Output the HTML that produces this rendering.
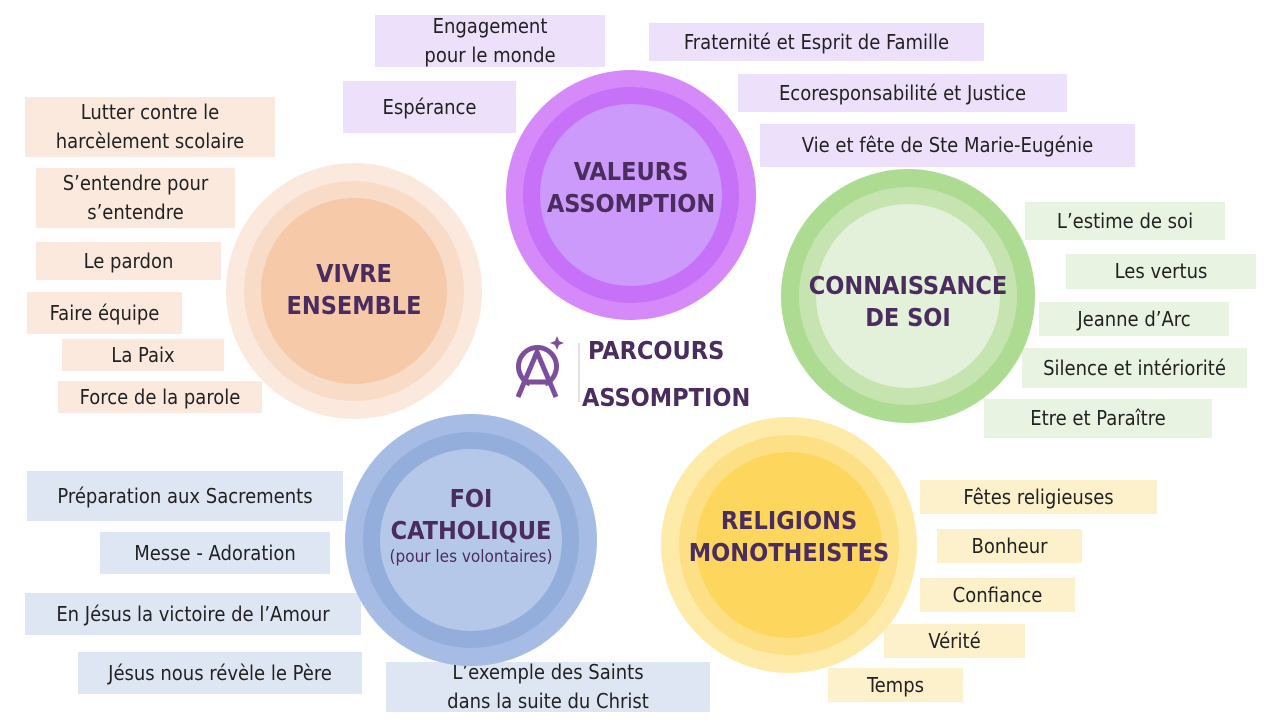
<!DOCTYPE html>
<html><head><meta charset="utf-8"><style>
body{margin:0;width:1280px;height:720px;background:#fff;position:relative;overflow:hidden;font-family:"DejaVu Sans Condensed","Liberation Sans",sans-serif;}
.b{position:absolute;display:flex;align-items:center;justify-content:center;text-align:center;font-size:20px;color:#222;line-height:29px;}
.p{background:#ede0fb}.o{background:#fce9de}.g{background:#e9f3e2}.u{background:#dfe6f3}.y{background:#fdf1cc}
.t{position:absolute;display:flex;align-items:center;justify-content:center;text-align:center;font-weight:bold;color:#4a2d5e;font-size:25px;line-height:32px;}
</style></head><body>
<div class="b p" style="left:375px;top:15px;width:230px;height:52px">Engagement<br>pour le monde</div>
<div class="b p" style="left:649px;top:23px;width:335px;height:38px">Fraternité et Esprit de Famille</div>
<div class="b p" style="left:343px;top:81px;width:173px;height:52px">Espérance</div>
<div class="b p" style="left:738px;top:74px;width:329px;height:38px">Ecoresponsabilité et Justice</div>
<div class="b p" style="left:760px;top:124px;width:375px;height:43px">Vie et fête de Ste Marie-Eugénie</div>

<div class="b o" style="left:25px;top:97px;width:250px;height:60px">Lutter contre le<br>harcèlement scolaire</div>
<div class="b o" style="left:36px;top:168px;width:199px;height:60px">S’entendre pour<br>s’entendre</div>
<div class="b o" style="left:36px;top:242px;width:185px;height:38px">Le pardon</div>
<div class="b o" style="left:27px;top:292px;width:155px;height:42px">Faire équipe</div>
<div class="b o" style="left:62px;top:339px;width:162px;height:32px">La Paix</div>
<div class="b o" style="left:58px;top:381px;width:204px;height:32px">Force de la parole</div>

<div class="b g" style="left:1025px;top:202px;width:200px;height:38px">L’estime de soi</div>
<div class="b g" style="left:1066px;top:254px;width:190px;height:35px">Les vertus</div>
<div class="b g" style="left:1039px;top:302px;width:190px;height:34px">Jeanne d’Arc</div>
<div class="b g" style="left:1022px;top:348px;width:225px;height:40px">Silence et intériorité</div>
<div class="b g" style="left:984px;top:399px;width:228px;height:39px">Etre et Paraître</div>

<div class="b u" style="left:27px;top:471px;width:316px;height:50px">Préparation aux Sacrements</div>
<div class="b u" style="left:100px;top:532px;width:230px;height:42px">Messe - Adoration</div>
<div class="b u" style="left:25px;top:593px;width:336px;height:42px">En Jésus la victoire de l’Amour</div>
<div class="b u" style="left:78px;top:652px;width:284px;height:42px">Jésus nous révèle le Père</div>
<div class="b u" style="left:386px;top:662px;width:324px;height:50px">L’exemple des Saints<br>dans la suite du Christ</div>

<div class="b y" style="left:920px;top:480px;width:237px;height:34px">Fêtes religieuses</div>
<div class="b y" style="left:937px;top:529px;width:145px;height:34px">Bonheur</div>
<div class="b y" style="left:920px;top:578px;width:155px;height:34px">Confiance</div>
<div class="b y" style="left:884px;top:624px;width:141px;height:34px">Vérité</div>
<div class="b y" style="left:828px;top:668px;width:135px;height:34px">Temps</div>

<svg style="position:absolute;left:0;top:0" width="1280" height="720">
<g><circle cx="631" cy="195" r="125" fill="#d68afa"/><circle cx="631" cy="195" r="108" fill="#c771f9"/><circle cx="631" cy="195" r="91" fill="#cb9afb"/></g>
<g><circle cx="354" cy="291" r="128" fill="#fbe9dd"/><circle cx="354" cy="291" r="110" fill="#f8dcc8"/><circle cx="354" cy="291" r="93" fill="#f6c9a9"/></g>
<g><circle cx="908" cy="296" r="127" fill="#addb92"/><circle cx="908" cy="296" r="109" fill="#c5e4af"/><circle cx="908" cy="296" r="92" fill="#e3f1da"/></g>
<g><circle cx="471" cy="540" r="126" fill="#a6bce4"/><circle cx="471" cy="540" r="108" fill="#94aedc"/><circle cx="471" cy="540" r="91" fill="#b5c8e9"/></g>
<g><circle cx="789" cy="545" r="128" fill="#feeaa9"/><circle cx="789" cy="545" r="110" fill="#fde086"/><circle cx="789" cy="545" r="93" fill="#fdd75d"/></g>
<g stroke="#7b4f9e" fill="none">
<path d="M530 384 A19 19 0 1 1 545 384" stroke-width="5"/>
<path d="M518 397 L537 352 L556 397 M526 382 L548 382" stroke-width="5"/>
</g>
<path d="M557 336 l2 5 5 2 -5 2 -2 5 -2 -5 -5 -2 5 -2z" fill="#7b4f9e"/>
<line x1="579" y1="343" x2="579" y2="402" stroke="#c8c0cc" stroke-width="1"/>
</svg>
<div class="t" style="left:506px;top:150px;width:250px;height:76px">VALEURS<br>ASSOMPTION</div>
<div class="t" style="left:254px;top:256px;width:200px;height:68px">VIVRE<br>ENSEMBLE</div>
<div class="t" style="left:781px;top:268px;width:254px;height:68px">CONNAISSANCE<br>DE SOI</div>
<div class="t" style="left:346px;top:475px;width:250px;height:100px;flex-direction:column">FOI<br>CATHOLIQUE<span style="font-size:17px;font-weight:normal;line-height:20px">(pour les volontaires)</span></div>
<div class="t" style="left:660px;top:503px;width:258px;height:68px">RELIGIONS<br>MONOTHEISTES</div>
<div class="t" style="left:588px;top:334px;width:140px;height:34px;justify-content:flex-start">PARCOURS</div>
<div class="t" style="left:582px;top:381px;width:170px;height:34px;justify-content:flex-start">ASSOMPTION</div>
</body></html>
